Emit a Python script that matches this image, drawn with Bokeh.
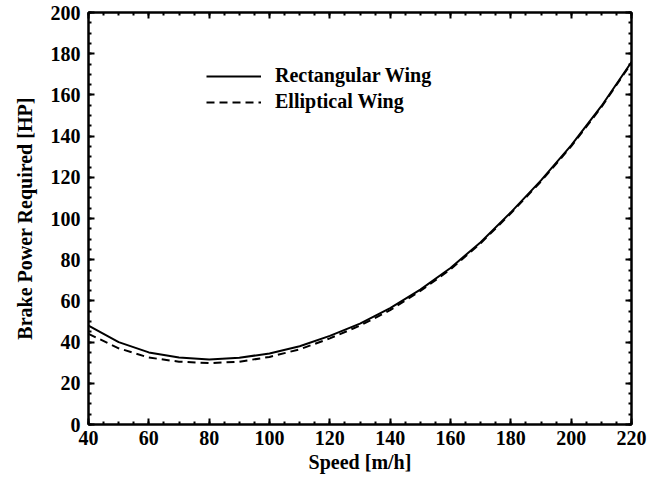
from bokeh.plotting import figure
from bokeh.models import (LinearAxis, SingleIntervalTicker, Range1d, Legend, LegendItem,
                          CustomJSTickFormatter)
from bokeh.embed import file_html
from bokeh.resources import INLINE

speed = [40, 50, 60, 70, 80, 90, 100, 110, 120, 130, 140, 150, 160, 170, 180, 190, 200, 210, 220]
rect_power = [48, 40, 35, 32.5, 31.6, 32.4, 34.5, 38, 43, 49, 56.5, 65.5, 76, 88.5, 103, 118.5, 135.5, 154.5, 176]
ellip_power = [44, 37, 32.5, 30.5, 29.8, 30.5, 32.8, 36.5, 41.8, 48, 55.5, 64.8, 75.3, 88, 102.5, 118, 135, 154, 175.5]

FONT = "Liberation Serif"
FS = "20px"

p = figure(width=652, height=481, output_backend="svg", toolbar_location=None,
           x_range=Range1d(40, 220), y_range=Range1d(0, 200),
           x_axis_location=None, y_axis_location=None,
           min_border_left=88, min_border_right=21, min_border_top=12, min_border_bottom=57)
p.grid.visible = False
p.outline_line_color = "black"
p.outline_line_width = 2
p.background_fill_color = "white"
p.border_fill_color = "white"

def make_axis(label=None, show_labels=True, standoff=10, label_standoff=12):
    ax = LinearAxis(ticker=SingleIntervalTicker(interval=20, num_minor_ticks=4))
    ax.axis_line_color = "black"
    ax.axis_line_width = 2
    ax.major_tick_in = 6
    ax.major_tick_out = 0
    ax.minor_tick_in = 3
    ax.minor_tick_out = 0
    ax.major_tick_line_width = 2
    ax.minor_tick_line_width = 2
    ax.major_label_text_font = FONT
    ax.major_label_text_font_style = "bold"
    ax.major_label_text_font_size = FS
    ax.major_label_text_color = "black"
    ax.major_label_standoff = standoff
    if label:
        ax.axis_label = label
        ax.axis_label_text_font = FONT
        ax.axis_label_text_font_style = "bold"
        ax.axis_label_text_font_size = FS
        ax.axis_label_text_color = "black"
        ax.axis_label_standoff = label_standoff
    if not show_labels:
        ax.formatter = CustomJSTickFormatter(code="return ''")
        ax.major_label_standoff = 0
    return ax

p.add_layout(make_axis("Brake Power Required [HP]", standoff=8, label_standoff=12), "left")
p.add_layout(make_axis("Speed [m/h]", standoff=6, label_standoff=3), "below")
p.add_layout(make_axis(None, False), "right")
p.add_layout(make_axis(None, False), "above")

r1 = p.line(speed, rect_power, line_color="black", line_width=2)
r2 = p.line(speed, ellip_power, line_color="black", line_width=2, line_dash="8 5")

legend = Legend(items=[LegendItem(label="Rectangular Wing", renderers=[r1]),
                       LegendItem(label="Elliptical Wing", renderers=[r2])],
                location=(118, 311), margin=0, padding=0, spacing=3,
                glyph_width=55, glyph_height=20, label_height=20, label_standoff=14,
                border_line_alpha=0, background_fill_alpha=0,
                label_text_font=FONT, label_text_font_style="bold",
                label_text_font_size=FS, label_text_color="black")
p.add_layout(legend, "center")

open("out.html", "w").write(file_html(p, INLINE))
